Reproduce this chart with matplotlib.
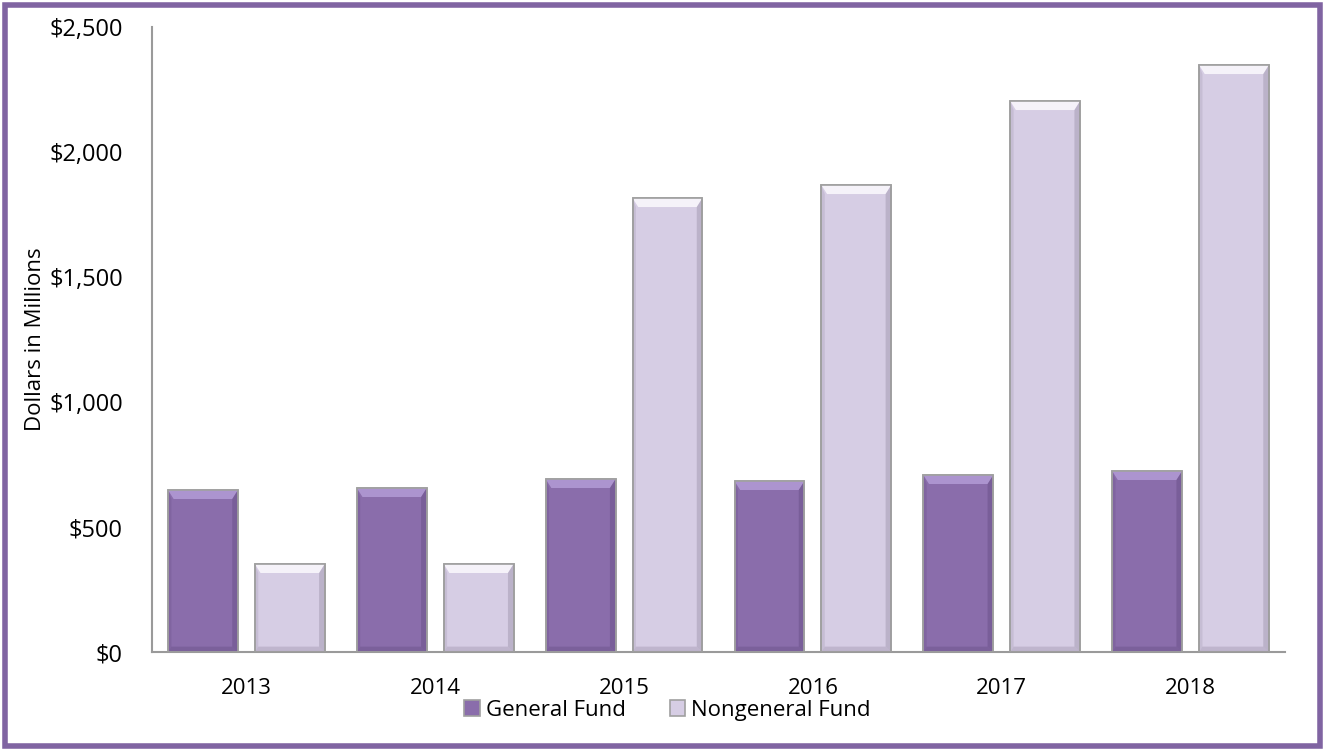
import matplotlib.pyplot as plt
from matplotlib.patches import Polygon, Rectangle
from matplotlib.ticker import FuncFormatter
import numpy as np

years = ['2013', '2014', '2015', '2016', '2017', '2018']
general_fund = [648, 656, 692, 684, 708, 724]
nongeneral_fund = [352, 352, 1816, 1868, 2204, 2348]

plt.rcParams['font.family'] = ['Open Sans', 'DejaVu Sans']

fig = plt.figure(figsize=(13.25, 7.51), dpi=100)
ax = fig.add_axes([0.1147, 0.1318, 0.8551, 0.8322])

x = np.arange(len(years))
width = 0.37
offset = 0.23


def bevel_bars(xs, values, face, light, dark, label):
    # plain bars first, then soft shaded edges on top for a raised look
    bars = ax.bar(xs, values, width, color=face, edgecolor='#a0a0a0', linewidth=1.2,
                  label=label, zorder=2)
    bx = 0.03
    by = 36
    for b in bars:
        x0, y0 = b.get_x(), b.get_y()
        x1, y1 = x0 + b.get_width(), y0 + b.get_height()
        ax.add_patch(Polygon([[x0, y1], [x1, y1], [x1 - bx, y1 - by], [x0 + bx, y1 - by]],
                             closed=True, facecolor=light, edgecolor='none', alpha=0.85, zorder=3))
        ax.add_patch(Polygon([[x1, y1], [x1, y0], [x1 - bx, y0 + by * 0.6], [x1 - bx, y1 - by]],
                             closed=True, facecolor=dark, edgecolor='none', alpha=0.35, zorder=3))
        ax.add_patch(Polygon([[x0, y1], [x0, y0], [x0 + bx * 0.6, y0 + by * 0.6], [x0 + bx * 0.6, y1 - by]],
                             closed=True, facecolor=dark, edgecolor='none', alpha=0.2, zorder=3))
        ax.add_patch(Polygon([[x0, y0], [x1, y0], [x1 - bx, y0 + by * 0.6], [x0 + bx * 0.6, y0 + by * 0.6]],
                             closed=True, facecolor=dark, edgecolor='none', alpha=0.3, zorder=3))
        ax.add_patch(Rectangle((x0, y0), x1 - x0, y1 - y0, facecolor='none',
                               edgecolor='#a0a0a0', linewidth=1.2, zorder=4))
    return bars


bevel_bars(x - offset, general_fund, '#8a6dab', '#b39cd6', '#5a4478', 'General Fund')
bevel_bars(x + offset, nongeneral_fund, '#d6cde4', '#fbf9fd', '#8a8098', 'Nongeneral Fund')

ax.set_xlim(-0.5, len(years) - 0.5)
ax.set_ylim(0, 2500)
ax.set_yticks(np.arange(0, 2501, 500))
ax.yaxis.set_major_formatter(FuncFormatter(lambda v, p: '${:,.0f}'.format(v)))
ax.set_xticks(x)
ax.set_xticklabels(years)
ax.tick_params(axis='x', length=0, labelsize=16, pad=19)
ax.tick_params(axis='y', length=0, labelsize=17, pad=21)
ax.set_ylabel('Dollars in Millions', fontsize=16, labelpad=2)

for side in ['top', 'right']:
    ax.spines[side].set_visible(False)
for side in ['left', 'bottom']:
    ax.spines[side].set_color('#9a9a9a')
    ax.spines[side].set_linewidth(1.5)

leg = ax.legend(loc='upper center', bbox_to_anchor=(0.455, -0.059), ncol=2, frameon=False,
                fontsize=16, handlelength=0.7, handleheight=0.7, handletextpad=0.25,
                columnspacing=2.0, borderpad=0)

# purple frame round the whole figure
fig.patches.append(Rectangle((0.004, 0.006), 0.992, 0.988, transform=fig.transFigure,
                             fill=False, edgecolor='#8064a2', linewidth=4))

fig.savefig('out.png', dpi=100)
